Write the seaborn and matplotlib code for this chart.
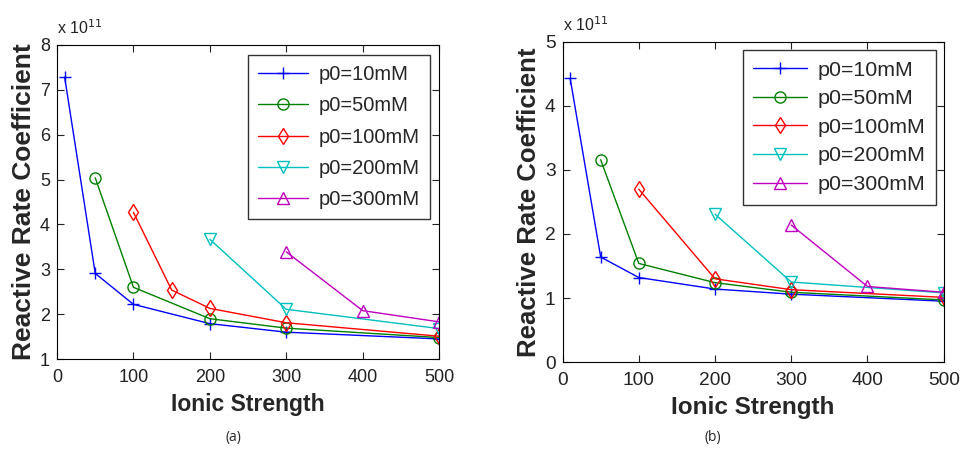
import numpy as np
import pandas as pd
import matplotlib
matplotlib.use("Agg")
import matplotlib.pyplot as plt
import seaborn as sns

# values in units of 1e11
labels = ["p0=10mM", "p0=50mM", "p0=100mM", "p0=200mM", "p0=300mM"]

x_a = {
    "p0=10mM": [10, 50, 100, 200, 300, 500],
    "p0=50mM": [50, 100, 200, 300, 500],
    "p0=100mM": [100, 150, 200, 300, 500],
    "p0=200mM": [200, 300, 500],
    "p0=300mM": [300, 400, 500],
}
y_a = {
    "p0=10mM": [7.28, 2.91, 2.22, 1.79, 1.60, 1.45],
    "p0=50mM": [5.04, 2.60, 1.90, 1.69, 1.48],
    "p0=100mM": [4.27, 2.54, 2.13, 1.81, 1.51],
    "p0=200mM": [3.67, 2.11, 1.68],
    "p0=300mM": [3.39, 2.08, 1.83],
}

x_b = {
    "p0=10mM": [10, 50, 100, 200, 300, 500],
    "p0=50mM": [50, 100, 200, 300, 500],
    "p0=100mM": [100, 200, 300, 500],
    "p0=200mM": [200, 300, 500],
    "p0=300mM": [300, 400, 500],
}
y_b = {
    "p0=10mM": [4.43, 1.64, 1.32, 1.14, 1.06, 0.95],
    "p0=50mM": [3.16, 1.54, 1.24, 1.09, 0.97],
    "p0=100mM": [2.70, 1.30, 1.13, 1.01],
    "p0=200mM": [2.31, 1.25, 1.08],
    "p0=300mM": [2.14, 1.18, 1.09],
}

colors = ["#0000ff", "#008000", "#ff0000", "#00bfbf", "#bf00bf"]
marker_list = ["+", "o", "d", "v", "^"]

sns.set_style("white")
plt.rcParams["font.family"] = ["Liberation Sans", "DejaVu Sans"]

fig = plt.figure(figsize=(9.6, 4.54), dpi=100)
ax_a = fig.add_axes([0.0594, 0.209, 0.398, 0.692])
ax_b = fig.add_axes([0.586, 0.2026, 0.397, 0.705])


def draw(ax, xs, ys, ylim, yticks, sc, legend_box, lspace):
    handles = []
    for lab, col, mk in zip(labels, colors, marker_list):
        df = pd.DataFrame({"Ionic Strength": xs[lab], "rate": ys[lab]})
        sns.lineplot(data=df, x="Ionic Strength", y="rate", color=col, marker=mk,
                     markersize=8, mec=col, mfc="none", mew=1.0, linewidth=1.0,
                     sort=False, ax=ax, label=lab, legend=False)
        handles.append(ax.get_lines()[-1])
    leg = ax.legend(handles=handles, loc="upper right", bbox_to_anchor=legend_box,
                    fontsize=14.5 * sc, frameon=True, fancybox=False, edgecolor="black",
                    handlelength=2.5, handletextpad=0.5, labelspacing=lspace,
                    borderpad=0.5, borderaxespad=0)
    leg.get_frame().set_linewidth(1.0)
    ax.set_xlim(0, 500)
    ax.set_ylim(*ylim)
    ax.set_xticks([0, 100, 200, 300, 400, 500])
    ax.set_yticks(yticks)
    ax.tick_params(direction="in", bottom=True, left=True, top=True, right=True,
                   length=5, width=0.8, labelsize=13 * sc, pad=7, colors="#222222")
    ax.tick_params(axis="y", pad=5)
    for s in ax.spines.values():
        s.set_color("black")
        s.set_linewidth(0.8)
    ax.set_xlabel("Ionic Strength", fontsize=16.5 * sc, fontweight="bold", labelpad=5)
    ax.set_ylabel("Reactive Rate Coefficient", fontsize=19 * sc if sc == 1 else 18.5,
                  fontweight="bold", labelpad=3)
    ax.text(0.0, 1.025, r"x 10$^{11}$", transform=ax.transAxes, fontsize=11.5,
            ha="left", va="bottom", color="#222222")


draw(ax_a, x_a, y_a, (1, 8), [1, 2, 3, 4, 5, 6, 7, 8], 1.0, (0.975, 0.967), 0.6)
draw(ax_b, x_b, y_b, (0, 5), [0, 1, 2, 3, 4, 5], 1.06, (0.98, 0.975), 0.45)

fig.text(233 / 960, 1 - 437 / 454, "(a)", ha="center", va="center", fontsize=10,
         family=["Open Sans", "DejaVu Sans"])
fig.text(713 / 960, 1 - 437 / 454, "(b)", ha="center", va="center", fontsize=10,
         family=["Open Sans", "DejaVu Sans"])

fig.savefig("out.png", dpi=100)
